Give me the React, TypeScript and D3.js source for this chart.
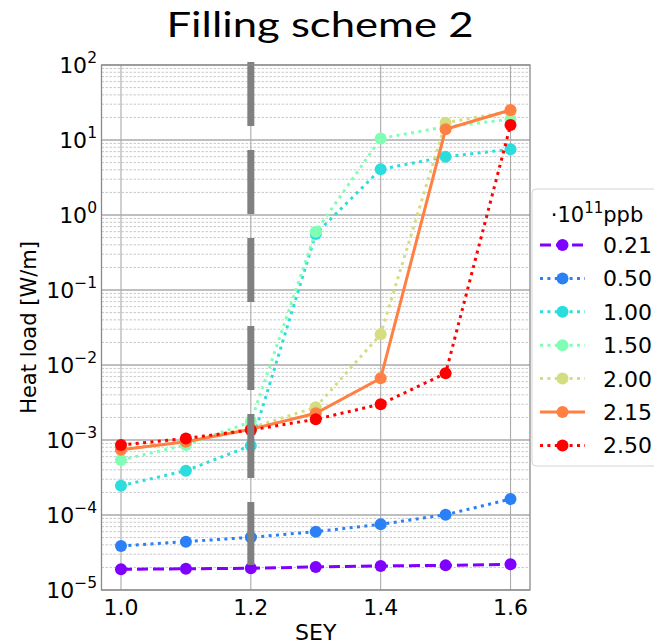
import React from 'react';
import { scaleLinear, scaleLog, line as d3Line, range } from 'd3';

// SEY values on the x axis
const sey = [1.0, 1.1, 1.2, 1.3, 1.4, 1.5, 1.6];
const xTicks = [1.0, 1.2, 1.4, 1.6];
const yDecades = [-5, -4, -3, -2, -1, 0, 1, 2];

// heat load [W/m] per bunch intensity (1e11 ppb)
const intensities = ['0.21', '0.50', '1.00', '1.50', '2.00', '2.15', '2.50'];
const hl021 = [1.89e-5, 1.92e-5, 1.95e-5, 2.03e-5, 2.09e-5, 2.13e-5, 2.2e-5];
const hl050 = [3.86e-5, 4.41e-5, 5.04e-5, 5.99e-5, 7.51e-5, 1.01e-4, 1.63e-4];
const hl100 = [2.46e-4, 3.9e-4, 8.4e-4, 0.56, 4.07, 5.98, 7.52];
const hl150 = [5.41e-4, 8.58e-4, 1.75e-3, 0.6, 10.5, 15.0, 18.9];
const hl200 = [7.6e-4, 9.6e-4, 1.45e-3, 2.73e-3, 0.0257, 17.0, 24.0];
const hl215 = [7.4e-4, 9.5e-4, 1.39e-3, 2.27e-3, 6.65e-3, 13.9, 25.1];
const hl250 = [8.58e-4, 1.05e-3, 1.36e-3, 1.89e-3, 3.0e-3, 7.74e-3, 15.8];

// nominal SEY marker (vertical dashed bar)
const markerSey = 1.2;
const markerSpan = [2.15e-5, 110];

const seriesValues = [hl021, hl050, hl100, hl150, hl200, hl215, hl250];
const colors = ['#8000ff', '#2b80f6', '#2bdddd', '#80ffb4', '#d4dd80', '#ff8042', '#ff0000'];
const dashes = ['11 5', '3 4.4', '3 4.4', '3 4.4', '3 4.4', undefined, '3 4.4'];

const width = 654;
const height = 644;
const margin = { top: 65, right: 124, bottom: 54, left: 101.5 };

const sup = (n: number) => (n < 0 ? '\u2212' + Math.abs(n) : String(n));

const App: React.FC = () => {
    const x = scaleLinear().domain([0.97, 1.63]).range([margin.left, width - margin.right]);
    const y = scaleLog().domain([1e-5, 1e2]).range([height - margin.bottom, margin.top]);

    const lineGen = d3Line<number>()
        .x((_, i) => x(sey[i]))
        .y(d => y(d));

    const minorTicks: number[] = [];
    yDecades.slice(0, -1).forEach(e => {
        range(2, 10).forEach(m => minorTicks.push(m * Math.pow(10, e)));
    });

    const font = '"DejaVu Sans", sans-serif';
    const x0 = margin.left;
    const x1 = width - margin.right;
    const yTop = margin.top;
    const yBot = height - margin.bottom;

    // legend geometry
    const lgX = 532;
    const lgY = 189;
    const rowH = 33.4;

    return (
        <svg width={width} height={height} style={{ position: 'absolute', left: 0, top: 0, background: '#fff' }}>
            <text x={320} y={37} textAnchor="middle" fontFamily="Lato, sans-serif" fontSize={35} fill="#000"
                textLength={307} lengthAdjust="spacingAndGlyphs">
                Filling scheme 2
            </text>

            {/* grid */}
            <g>
                {minorTicks.map((t, i) => (
                    <line key={'mn' + i} x1={x0} x2={x1} y1={y(t)} y2={y(t)} stroke="#c4c4c4" strokeWidth={0.9} strokeDasharray="2.5 1.5" />
                ))}
                {yDecades.map(e => (
                    <line key={'mj' + e} x1={x0} x2={x1} y1={y(Math.pow(10, e))} y2={y(Math.pow(10, e))} stroke="#aaaaaa" strokeWidth={1.4} />
                ))}
                {xTicks.map(t => (
                    <line key={'xg' + t} x1={x(t)} x2={x(t)} y1={yTop} y2={yBot} stroke="#aaaaaa" strokeWidth={1.1} />
                ))}
            </g>

            {/* series */}
            <g>
                {seriesValues.map((vals, k) => (
                    <g key={intensities[k]}>
                        <path d={lineGen(vals) || ''} fill="none" stroke={colors[k]} strokeWidth={3}
                            strokeDasharray={dashes[k]} />
                        {vals.map((v, i) => (
                            <circle key={i} cx={x(sey[i])} cy={y(v)} r={6} fill={colors[k]} />
                        ))}
                    </g>
                ))}
            </g>

            {/* nominal SEY bar */}
            <line x1={x(markerSey)} x2={x(markerSey)} y1={y(markerSpan[1])} y2={y(markerSpan[0])}
                stroke="#808080" strokeWidth={7} strokeDasharray="64 24" />

            {/* frame */}
            <rect x={x0} y={yTop} width={x1 - x0} height={yBot - yTop} fill="none" stroke="#8a8a8a" strokeWidth={1.3} />

            {/* x axis */}
            {xTicks.map(t => (
                <text key={'xt' + t} x={x(t)} y={615} textAnchor="middle" fontFamily={font} fontSize={22} fill="#000">
                    {t.toFixed(1)}
                </text>
            ))}
            <text x={(x0 + x1) / 2} y={640} textAnchor="middle" fontFamily={font} fontSize={22} fill="#000">SEY</text>

            {/* y axis */}
            {yDecades.map(e => (
                <text key={'yt' + e} x={97} y={y(Math.pow(10, e)) + 8} textAnchor="end" fontFamily={font} fontSize={22} fill="#000">
                    10<tspan dy={-10} fontSize={15.5}>{sup(e)}</tspan>
                </text>
            ))}
            <text transform={`translate(36,${(yTop + yBot) / 2}) rotate(-90)`} textAnchor="middle" fontFamily={font} fontSize={21} fill="#000">
                Heat load [W/m]
            </text>

            {/* legend */}
            <g>
                <rect x={lgX} y={lgY} width={140} height={277} rx={4} fill="#fff" fillOpacity={0.85} stroke="#d4d4d4" strokeWidth={1} />
                <text x={597} y={221.5} textAnchor="middle" fontFamily={font} fontSize={21} fill="#000">
                    ·10<tspan dy={-9} fontSize={15}>11</tspan><tspan dy={9}>ppb</tspan>
                </text>
                {intensities.map((lab, k) => {
                    const cy = 245 + k * rowH;
                    return (
                        <g key={'lg' + lab}>
                            <line x1={540} x2={585} y1={cy} y2={cy} stroke={colors[k]} strokeWidth={3} strokeDasharray={dashes[k]} />
                            <circle cx={562.5} cy={cy} r={6} fill={colors[k]} />
                            <text x={603} y={cy + 8} fontFamily={font} fontSize={22} fill="#000">{lab}</text>
                        </g>
                    );
                })}
            </g>
        </svg>
    );
};

export default App;
